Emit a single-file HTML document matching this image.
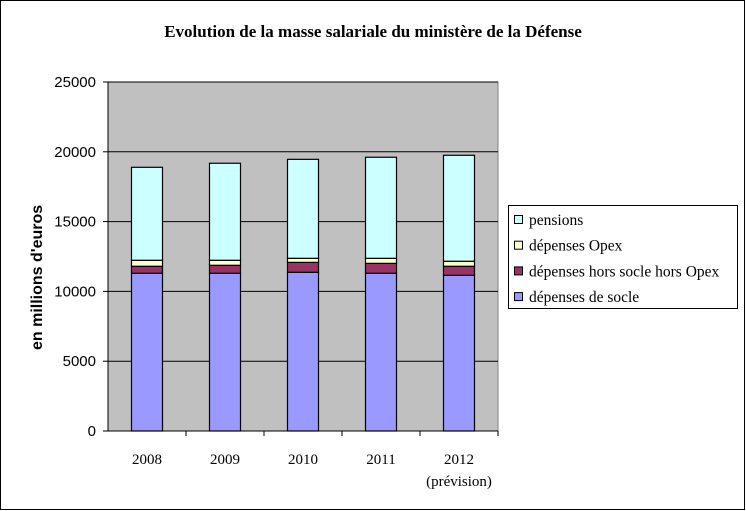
<!DOCTYPE html>
<html><head><meta charset="utf-8"><style>
body{margin:0;background:#fff}
svg{display:block}
text{font-family:"Liberation Serif",serif}
.ax{font-family:"Liberation Sans",sans-serif}
</style></head><body>
<svg id="c" width="746" height="511">
<rect x="0.5" y="0.5" width="744" height="509" fill="#fff" stroke="#000"/>
<text x="373" y="37" text-anchor="middle" font-size="17" font-weight="bold">Evolution de la masse salariale du ministère de la Défense</text>
<rect x="108" y="82" width="390" height="349" fill="#c0c0c0" stroke="#808080"/>
<g id="grid"></g><g id="bars"></g><g id="axes"></g>
<svg x="0" y="197" width="60" height="260" overflow="hidden">
<text class="ax" transform="translate(42,153) rotate(-90)" text-anchor="start" font-size="16" font-weight="bold">en millions d'euros</text>
</svg>
<g>
<rect x="508.5" y="205.5" width="229" height="103" fill="#fff" stroke="#000"/>
<g id="leg"></g>
</g>
</svg>
<script>
const categories=["2008","2009","2010","2011","2012"];
const socle=[11300,11300,11370,11300,11150];
const horsSocle=[500,570,710,710,650];
const opex=[430,360,290,360,360];
const pensions=[6660,6950,7090,7240,7590];
const yTicks=[0,5000,10000,15000,20000,25000];
const NS="http://www.w3.org/2000/svg";
const x0=108,cw=78,y0=431,yTop=82,yMax=25000;
const y=v=>y0-(v/yMax)*(y0-yTop);
function el(t,a,p){const e=document.createElementNS(NS,t);for(const k in a)e.setAttribute(k,a[k]);p.appendChild(e);return e;}
const grid=document.getElementById('grid'),bars=document.getElementById('bars'),axes=document.getElementById('axes'),leg=document.getElementById('leg');
yTicks.forEach(t=>{
 if(t>0){const g=el('line',{x1:x0,x2:498,y1:y(t),y2:y(t),stroke:'#000'},grid);
 
 }
 const tk=el('line',{x1:x0-5,x2:x0,y1:y(t),y2:y(t),stroke:'#000'},axes);
 
 
 const tx=el('text',{x:96,y:y(t)+5,'text-anchor':'end','font-size':15,class:'ax'},axes);tx.textContent=t;
 
 
});
el('line',{x1:x0,x2:x0,y1:yTop,y2:y0,stroke:'#000'},axes);
el('line',{x1:x0,x2:498,y1:y0,y2:y0,stroke:'#000'},axes);
const series=[[socle,'#9999ff','socle'],[horsSocle,'#993366','hors-socle'],[opex,'#ffffcc','opex'],[pensions,'#ccffff','pensions']];
categories.forEach((c,i)=>{
 const cx=x0+cw*(i+0.5);let base=0;
 series.forEach(([arr,col,n])=>{
  const r=el('rect',{x:cx-15.5,y:y(base+arr[i]),width:31,height:y(base)-y(base+arr[i]),fill:col,stroke:'#000','stroke-width':1.2},bars);
  
  
  base+=arr[i];
 });
 el('line',{x1:x0+cw*(i+1),x2:x0+cw*(i+1),y1:y0,y2:y0+5,stroke:'#000'},axes);
 const t=el('text',{x:cx,y:464,'text-anchor':'middle','font-size':15},axes);t.textContent=c;
 
 
});
const pv=el('text',{x:x0+cw*4.5,y:486,'text-anchor':'middle','font-size':15},axes);pv.textContent='(prévision)';


const items=[['pensions','#ccffff'],['dépenses Opex','#ffffcc'],['dépenses hors socle hors Opex','#993366'],['dépenses de socle','#9999ff']];
items.forEach(([n,col],i)=>{
 const cy=220+i*25.7;
 const s=el('rect',{x:514.5,y:cy-4.5,width:8,height:8,fill:col,stroke:'#000'},leg);
 
 
 const t=el('text',{x:529,y:cy+5,'font-size':15.5},leg);t.textContent=n;
 
 
});
</script>
</body></html>
